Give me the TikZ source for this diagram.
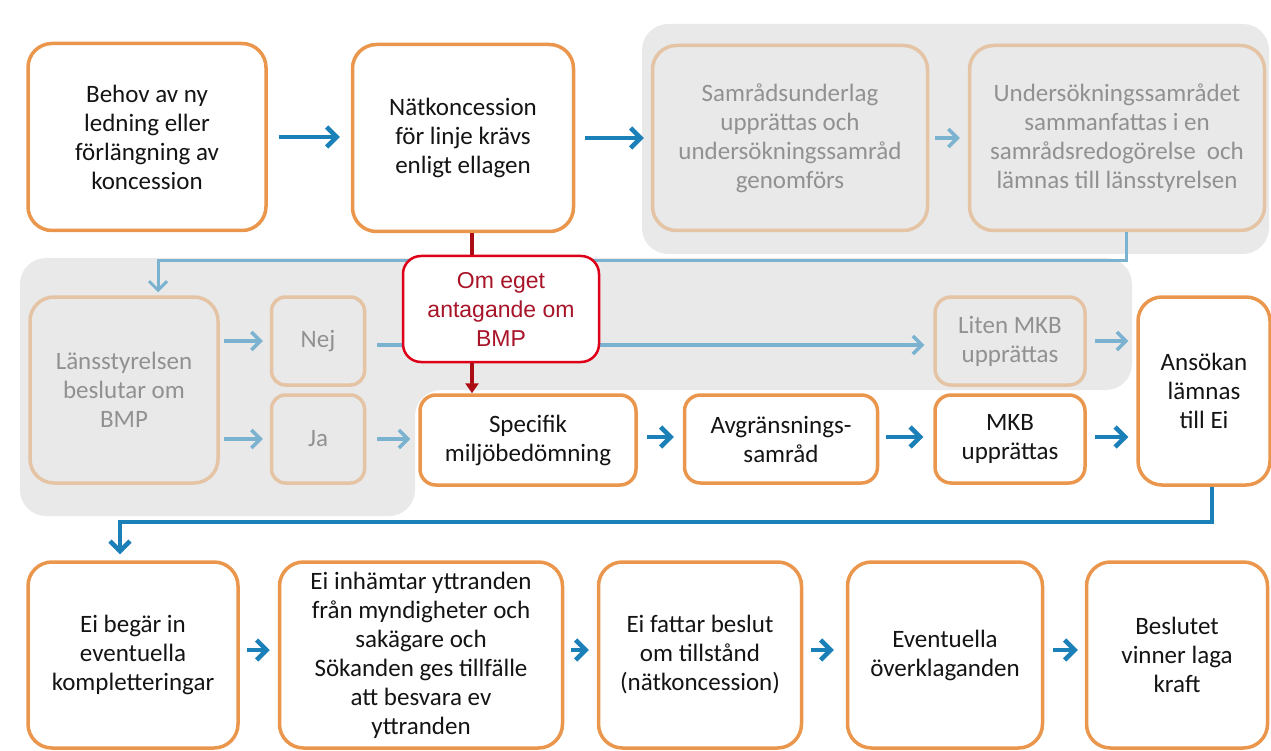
\documentclass[tikz,border=0pt]{standalone}
\usepackage{fontspec}
\setmainfont{Carlito}
\newfontfamily\arialf{Liberation Sans}
\usetikzlibrary{arrows.meta}
\definecolor{orng}{RGB}{234,150,76}
\definecolor{forng}{RGB}{228,196,164}
\definecolor{blu}{RGB}{28,128,184}
\definecolor{lblu}{RGB}{122,178,208}
\definecolor{gbg}{RGB}{233,233,233}
\definecolor{gtxt}{RGB}{145,145,145}
\definecolor{redb}{RGB}{222,0,24}
\definecolor{redt}{RGB}{168,20,40}
\definecolor{redl}{RGB}{172,12,20}
\definecolor{txt}{RGB}{20,20,20}
\newcommand{\mainfs}{\fontsize{25}{29}\selectfont}
\tikzset{
  box/.style={draw=orng, line width=3.5, fill=white, rounded corners=24, align=center,
    font=\mainfs, text=txt, inner sep=0},
  gbox/.style={box, draw=forng, fill=gbg, text=gtxt},
  rbox/.style={draw=redb, line width=2.5, fill=white, rounded corners=18, align=center,
    font=\arialf\fontsize{23}{29}\selectfont, text=redt, inner sep=0},
  arr/.style={blu, line width=4.5, -{Straight Barb[length=10,width=20]}},
  larr/.style={lblu, line width=3.5, -{Straight Barb[length=9,width=18]}},
}
\begin{document}
\begin{tikzpicture}[x=1pt,y=-1pt]
\useasboundingbox (0,0) rectangle (1271,751);
% grey backgrounds
\fill[gbg, rounded corners=26] (642,24) rectangle (1269,254);
\fill[gbg, rounded corners=26] (20,258) -- (1132,258) -- (1132,390) -- (415,390) -- (415,516) -- (20,516) -- cycle;
% top row
\node[box, minimum width=238, minimum height=187] (b1) at (147,137) {Behov av ny\\ledning eller\\förlängning av\\koncession};
\node[box, minimum width=221, minimum height=187] (b2) at (463,138) {Nätkoncession\\för linje krävs\\enligt ellagen};
\node[gbox, minimum width=275, minimum height=185] (b3) at (790,138) {Samrådsunderlag\\upprättas och\\undersökningssamråd\\genomförs};
\node[gbox, minimum width=295, minimum height=185] (b4) at (1117,138) {Undersökningssamrådet\\sammanfattas i en\\samrådsredogörelse\ \ och\\lämnas till länsstyrelsen};
% middle
\node[gbox, minimum width=188, minimum height=186] (lans) at (124,390) {Länsstyrelsen\\beslutar om\\BMP};
\node[gbox, minimum width=93, minimum height=88, rounded corners=14] (nej) at (318,341) {Nej};
\node[gbox, minimum width=93, minimum height=88, rounded corners=14] (ja) at (318,439) {Ja};
\node[box, minimum width=216, minimum height=90, rounded corners=16] (spec) at (528,440) {Specifik\\miljöbedömning};
\node[box, minimum width=193, minimum height=88, rounded corners=16] (avg) at (781,439) {Avgränsnings-\\samråd};
\node[box, minimum width=150, minimum height=88, rounded corners=16] (mkb) at (1010,439) {MKB\\upprättas};
\node[gbox, minimum width=150, minimum height=88, rounded corners=16] (liten) at (1010,341) {Liten MKB\\upprättas};
\node[box, minimum width=132, minimum height=188] (ans) at (1204,391) {Ansökan\\lämnas\\till Ei};
% bottom row
\node[box, minimum width=210, minimum height=186] (c1) at (133,655) {Ei begär in\\eventuella\\kompletteringar};
\node[box, minimum width=283, minimum height=186] (c2) at (421,655) {Ei inhämtar yttranden\\från myndigheter och\\sakägare och\\Sökanden ges tillfälle\\att besvara ev\\yttranden};
\node[box, minimum width=203, minimum height=186] (c3) at (700,655) {Ei fattar beslut\\om tillstånd\\(nätkoncession)};
\node[box, minimum width=195, minimum height=186] (c4) at (945,655) {Eventuella\\överklaganden};
\node[box, minimum width=181, minimum height=186] (c5) at (1177,655) {Beslutet\\vinner laga\\kraft};
% top connectors
\draw[arr, shorten <=11, shorten >=11] (b1.east) -- (b1.east -| b2.west);
\draw[arr, shorten <=10, shorten >=7] (b2.east) -- (b2.east -| b3.west);
\draw[larr, shorten <=6, shorten >=8] (b3.east) -- (b3.east -| b4.west);
\draw[larr, line width=3, shorten >=3] ([xshift=9]b4.south) -- ++(0,28) -| ([xshift=34]lans.north);
% middle connectors
\draw[larr, shorten <=4, shorten >=7] (lans.east |- nej.west) -- (nej.west);
\draw[larr, shorten <=4, shorten >=7] (lans.east |- ja.west) -- (ja.west);
\draw[larr, shorten <=11, shorten >=8] (ja.east) -- (ja.east -| spec.west);
\draw[larr, shorten <=11, shorten >=9] ([yshift=-4]nej.east) -- ([yshift=-4]nej.east -| liten.west);
\draw[larr, shorten <=8, shorten >=8] (liten.east) -- (liten.east -| ans.west);
\draw[arr, shorten <=9, shorten >=9] ([yshift=3]spec.east) -- ([yshift=3]spec.east -| avg.west);
\draw[arr, shorten <=7, shorten >=10] ([yshift=2]avg.east) -- ([yshift=2]avg.east -| mkb.west);
\draw[arr, shorten <=8, shorten >=8] ([yshift=2]mkb.east) -- ([yshift=2]mkb.east -| ans.west);
% red decision box
\node[rbox, minimum width=196, minimum height=106] (red) at (501,309) {Om eget\\antagande om\\BMP};
\coordinate (rx) at (472,0);
\draw[redl, line width=4] (b2.south -| rx) -- (red.north -| rx);
\draw[redl, line width=4, -{Triangle[length=10,width=13]}] (red.south -| rx) -- (spec.north -| rx);
% long connector to bottom row
\draw[arr, shorten >=6] ([xshift=8]ans.south) -- ++(0,35) -| ([xshift=-13]c1.north);
% bottom connectors
\draw[arr, shorten <=7, shorten >=8] ([yshift=5]c1.east) -- ([yshift=5]c1.east -| c2.west);
\draw[arr, shorten <=7, shorten >=8] ([yshift=5]c2.east) -- ([yshift=5]c2.east -| c3.west);
\draw[arr, shorten <=8, shorten >=12] ([yshift=5]c3.east) -- ([yshift=5]c3.east -| c4.west);
\draw[arr, shorten <=9, shorten >=7] ([yshift=5]c4.east) -- ([yshift=5]c4.east -| c5.west);
\end{tikzpicture}
\end{document}
